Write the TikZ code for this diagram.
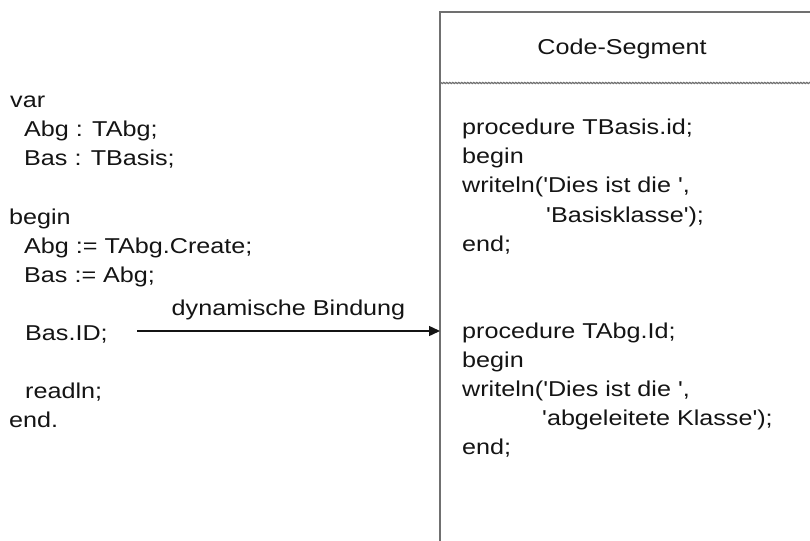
\documentclass[tikz,border=0pt]{standalone}
\usepackage{fontspec}
\setmainfont{Liberation Sans}[FakeStretch=1.17, Ligatures=TeXOff]
\usetikzlibrary{arrows.meta, positioning, decorations.pathmorphing}
\definecolor{FrameGray}{HTML}{707070}
\definecolor{CodeInk}{HTML}{141414}

\tikzset{
  code/.style={anchor=base west, inner sep=0pt, text=CodeInk, font=\fontsize{21.5}{29}\selectfont},
  frame/.style={draw=FrameGray, line width=1.6pt},
  bindarrow/.style={draw=CodeInk, line width=1.4pt, -{Triangle[length=11pt, width=10pt]}}
}

\begin{document}
\begin{tikzpicture}[x=1pt, y=-1pt]
  \useasboundingbox (0,0) rectangle (810,540);

  % Hauptprogramm
  \node[code] (varkw) at (10,108) {var};
  \node[code] (declabg) at (24,137) {Abg : TAbg;};
  \node[code] (declbas) at (24,166) {Bas : TBasis;};
  \node[code] (beginkw) at (9,224) {begin};
  \node[code] (create) at (24,253) {Abg := TAbg.Create;};
  \node[code] (assign) at (24,282) {Bas := Abg;};
  \node[code] (idcall) at (25,340) {Bas.ID;};
  \node[code] (readln) at (25,398) {readln;};
  \node[code] (endkw) at (9,427) {end.};

  % Code-Segment
  \begin{scope}
    \clip (0,0) rectangle (810,540);
    \draw[frame] (440,560) -- (440,12) -- (830,12);
    \draw[draw=FrameGray, line width=1.1pt, decorate,
          decoration={zigzag, segment length=3pt, amplitude=0.7pt}] (440,83) -- (812,83);
  \end{scope}
  \node[code, anchor=base] (segtitle) at (622,55) {Code-Segment};

  \node[code] (procbas) at (462,135) {procedure TBasis.id;};
  \node[code] (beginbas) at (462,164) {begin};
  \node[code] (writebas) at (462,193) {writeln('Dies ist die ',};
  \node[code] (strbas) at (546,222) {'Basisklasse');};
  \node[code] (endbas) at (462,251) {end;};

  \node[code] (procabg) at (462,338) {procedure TAbg.Id;};
  \node[code] (beginabg) at (462,367) {begin};
  \node[code] (writeabg) at (462,396) {writeln('Dies ist die ',};
  \node[code] (strabg) at (542,425) {'abgeleitete Klasse');};
  \node[code] (endabg) at (462,454) {end;};

  % dynamische Bindung
  \coordinate (bindstart) at (137,331);
  \coordinate (bindend) at (440,331);
  \draw[bindarrow] (bindstart) -- (bindend)
    node[code, midway, anchor=base, yshift=16pt] (bindlabel) {dynamische Bindung};
\end{tikzpicture}
\end{document}
